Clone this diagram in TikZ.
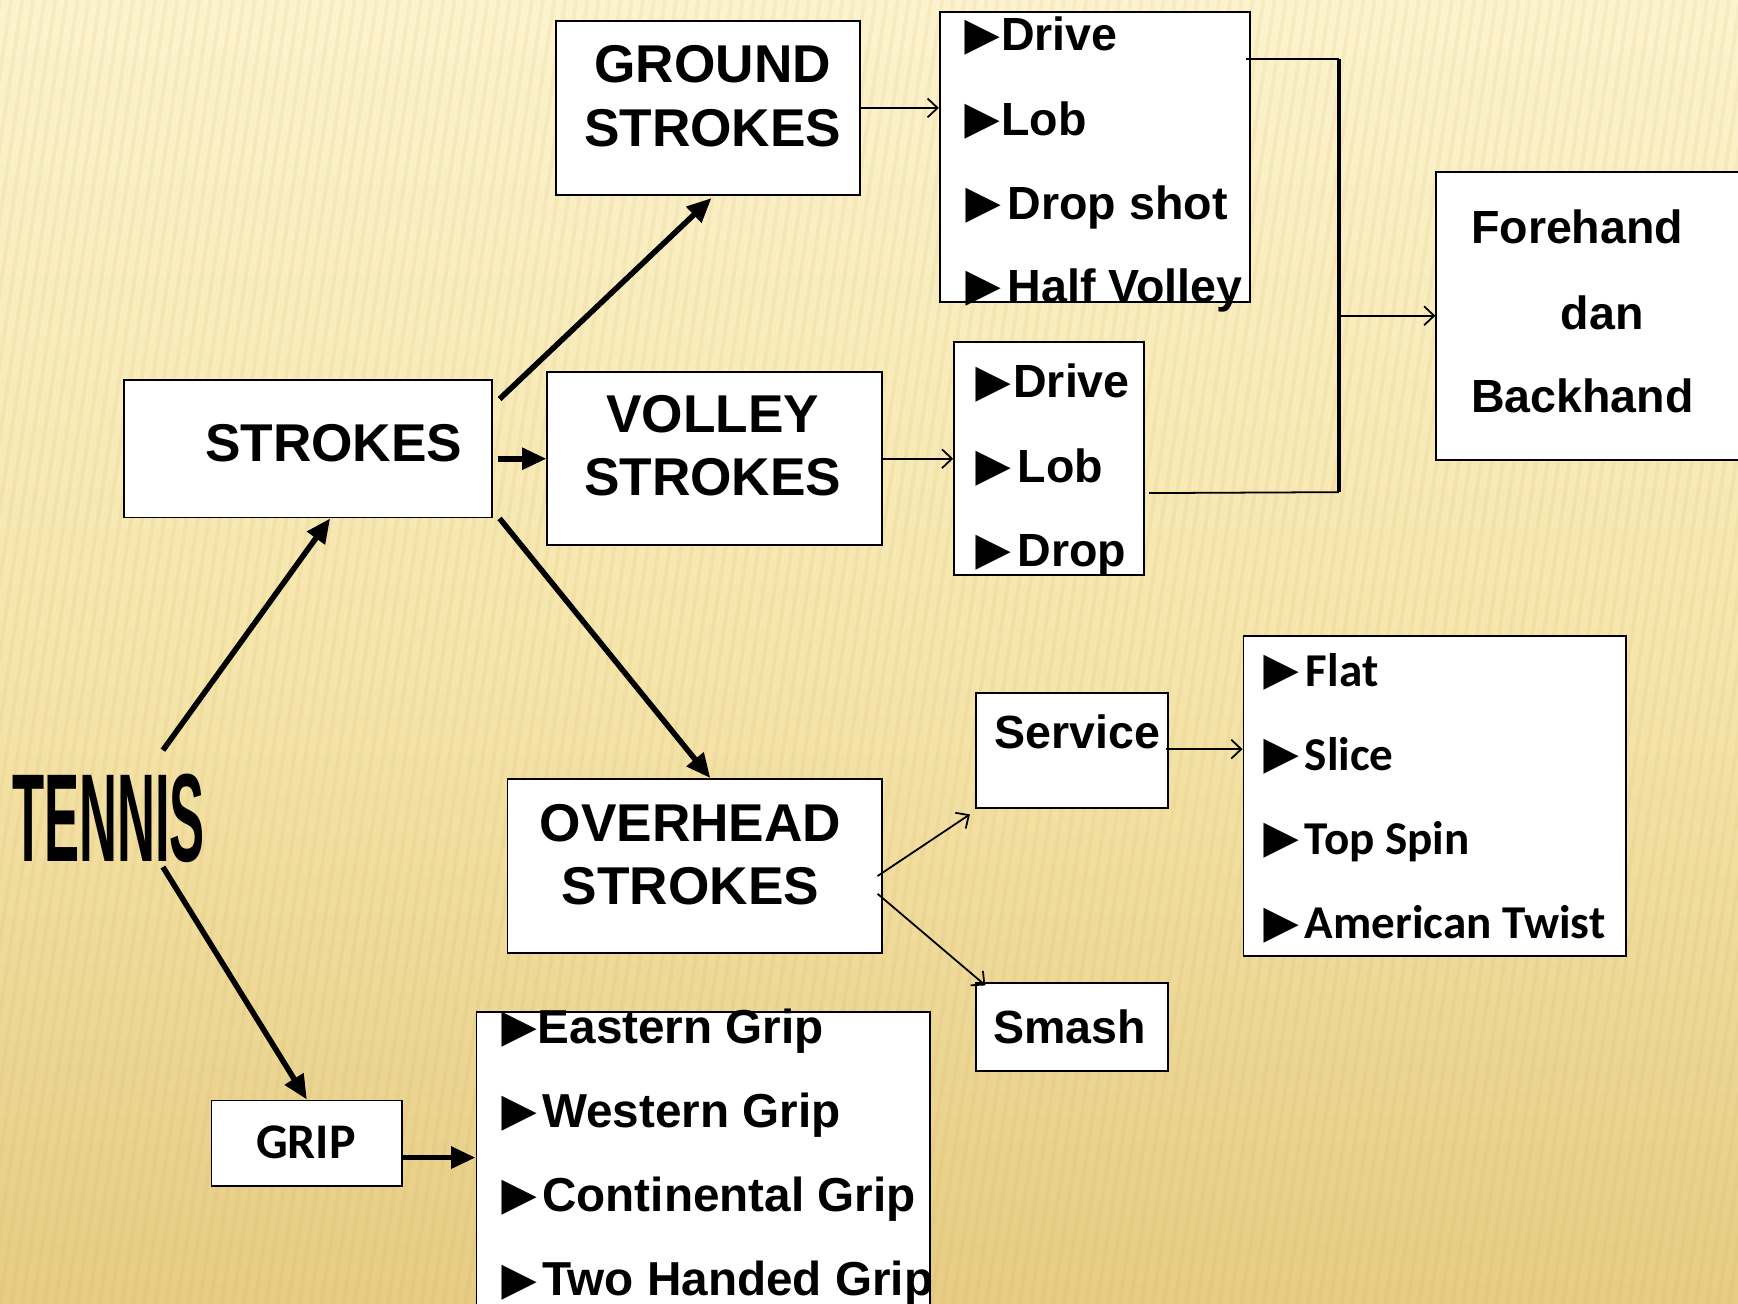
\documentclass[tikz,border=0pt]{standalone}
\usepackage{fontspec}
\setmainfont{Liberation Sans}
\newfontfamily\calfont{Carlito}
\newfontfamily\symfont{Liberation Sans}
\usetikzlibrary{arrows.meta,calc}
\definecolor{bgtop}{RGB}{252,243,206}
\definecolor{bgmid}{RGB}{246,230,172}
\definecolor{bgbot}{RGB}{230,204,132}
\definecolor{stripe}{RGB}{200,160,70}
\newcommand\tri[1][33pt]{\makebox[#1][l]{\hspace*{-10pt}\raisebox{-3pt}{\symfont\fontsize{53}{53}\selectfont ►}}}
\begin{document}
\begin{tikzpicture}[x=1pt,y=-1pt,
  box/.style={draw=black, line width=1.7pt, fill=white, inner sep=0pt, anchor=north west},
  title/.style={inner sep=0pt, align=center, font=\fontsize{48}{57.5}\selectfont\bfseries},
  item/.style={inner sep=0pt, anchor=base west, font=\fontsize{42}{42}\selectfont\bfseries},
  gitem/.style={inner sep=0pt, anchor=base west, font=\fontsize{43}{43}\selectfont\bfseries},
  calitem/.style={inner sep=0pt, anchor=base west, font=\calfont\fontsize{42.5}{42}\selectfont\bfseries},
  bigarrow/.style={line width=5pt, -{Triangle[length=22pt,width=19pt]}},
  thinarrow/.style={line width=1.6pt, -{Straight Barb[length=9pt,width=17pt]}},
  thinline/.style={line width=1.6pt}
]
\useasboundingbox (0,0) rectangle (1568,1176);
\clip (0,0) rectangle (1568,1176);
% background
\shade[top color=bgtop, bottom color=bgbot, middle color=bgmid] (0,0) rectangle (1568,1176);
\foreach \i in {-40,...,160}{
  \draw[stripe, opacity=0.09, line width=3.5pt] (\i*10,1176) -- (\i*10+180,0);
}

% boxes
\node[box, minimum width=274pt, minimum height=157pt] (ground) at (501,18) {};
\node[box, minimum width=280pt, minimum height=262pt] (glist) at (847,10) {};
\node[box, minimum width=332pt, minimum height=124pt] (strokes) at (111,342) {};
\node[box, minimum width=302pt, minimum height=156pt] (volley) at (493,335) {};
\node[box, minimum width=171pt, minimum height=210pt] (vlist) at (860,308) {};
\node[box, minimum width=300pt, minimum height=260pt] (fb) at (1295,154) {};
\node[box, minimum width=338pt, minimum height=157pt] (overhead) at (457,702) {};
\node[box, minimum width=173pt, minimum height=104pt] (service) at (880,624) {};
\node[box, minimum width=173pt, minimum height=79pt] (smash) at (880,886) {};
\node[box, minimum width=345pt, minimum height=289pt] (flist) at (1121,573) {};
\node[box, minimum width=172pt, minimum height=77pt] (grip) at (190,992) {};
\node[box, minimum width=409pt, minimum height=300pt] (griplist) at (429,912) {};

% texts
\node[inner sep=0pt] (tennis) at (98,738) {\scalebox{0.42}[1]{\fontsize{113}{113}\selectfont\bfseries TENNIS}};
\node[title] (groundtxt) at (643,87) {GROUND\\STROKES};
\node[title] (strokestxt) at (301,400) {STROKES};
\node[title] (volleytxt) at (643,402) {VOLLEY\\STROKES};
\node[title] (overheadtxt) at (623,771) {OVERHEAD\\STROKES};
\node[inner sep=0pt, font=\calfont\fontsize{45}{45}\selectfont\bfseries] (griptxt) at (276,1031) {GRIP};

\node[item] (g1) at (870,46) {\tri Drive};
\node[item] (g2) at (870,122) {\tri Lob};
\node[item] (g3) at (871,198) {\tri[38pt]Drop shot};
\node[item] (g4) at (871,273) {\tri[38pt]Half Volley};

\node[item] (v1) at (880,359) {\tri[34pt]Drive};
\node[item] (v2) at (880,435) {\tri[38pt]Lob};
\node[item] (v3) at (880,511) {\tri[38pt]Drop};

\node[item] (fb1) at (1327,220) {Forehand};
\node[item] (fb2) at (1408,297) {dan};
\node[item] (fb3) at (1327,372) {Backhand};

\node[item] (servtxt) at (897,675) {Service};
\node[item] (smashtxt) at (896,941) {Smash};

\node[calitem] (f1) at (1140,619) {\tri[38pt]Flat};
\node[calitem] (f2) at (1140,695) {\tri[37pt]Slice};
\node[calitem] (f3) at (1140,771) {\tri[37pt]Top Spin};
\node[calitem] (f4) at (1140,847) {\tri[37pt]American Twist};

\node[gitem] (e1) at (452,941) {\tri Eastern Grip};
\node[gitem] (e2) at (452,1017) {\tri[37pt]Western Grip};
\node[gitem] (e3) at (452,1093) {\tri[37pt]Continental Grip};
\node[gitem] (e4) at (452,1169) {\tri[37pt]Two Handed Grip};

% thick connectors
\draw[bigarrow] ($(tennis.north)+(49,-21)$) -- ($(strokes.south)+(20,0)$);
\draw[bigarrow] ($(tennis.south)+(49,4)$) -- (grip.north);
\draw[bigarrow] ($(strokes.north east)+(6,18)$) -- ($(ground.south)+(3,2)$);
\draw[bigarrow] ($(volley.west)+(-44,0)$) -- (volley.west);
\draw[bigarrow] ($(strokes.south east)+(6,0)$) -- ($(overhead.north)+(14,0)$);
\draw[bigarrow] ($(grip.east)+(0,13)$) coordinate (g0) -- (g0 -| griplist.west);

% thin connectors
\draw[thinarrow] (ground.east) -- (ground.east -| glist.west);
\draw[thinarrow] (volley.east) -- (volley.east -| vlist.west);
\coordinate (jt) at (1208,53);
\coordinate (jb) at (1208,444);
\draw[thinline] ($(glist.north east)+(-5,43)$) -- (jt);
\draw[line width=2.8pt] (jt) -- (jb);
\draw[thinline] ($(vlist.east)+(4,31)$) -- (jb);
\draw[thinarrow] (jt |- fb.west) -- (fb.west);
\draw[thinarrow] ($(overhead.east)+(-5,9)$) -- ($(service.south west)+(-5,5)$);
\draw[thinarrow] ($(overhead.east)+(-5,25)$) -- ($(smash.north west)+(9,3)$);
\draw[thinarrow] ($(service.east)+(-3,-1)$) coordinate (s0) -- (s0 -| flist.west);
\end{tikzpicture}
\end{document}
